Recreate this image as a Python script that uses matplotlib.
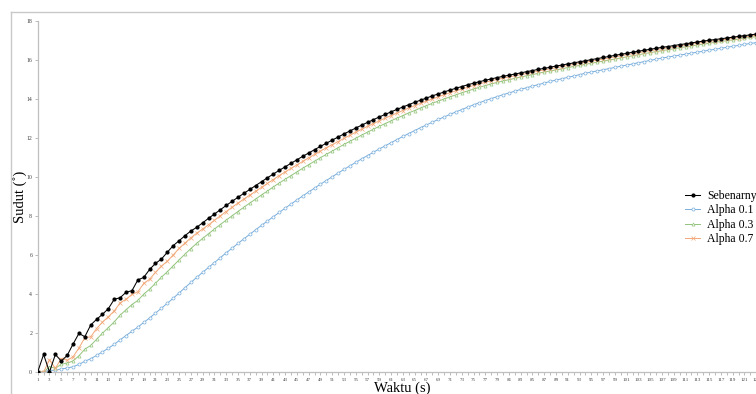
import matplotlib
matplotlib.use("Agg")
import matplotlib.pyplot as plt
from matplotlib.lines import Line2D

plt.rcParams['font.family'] = ['Liberation Serif', 'DejaVu Serif']

# time categories (s)
waktu = list(range(1, 126))

sebenarnya = [
    0.00, 0.90, 0.00, 0.90, 0.56, 0.85, 1.43, 1.98, 1.81, 2.41,
    2.70, 2.96, 3.25, 3.73, 3.81, 4.09, 4.17, 4.72, 4.85, 5.26,
    5.57, 5.79, 6.14, 6.48, 6.73, 6.99, 7.23, 7.42, 7.65, 7.88,
    8.10, 8.32, 8.54, 8.75, 8.96, 9.16, 9.36, 9.56, 9.76, 9.96,
    10.15, 10.34, 10.52, 10.70, 10.88, 11.06, 11.23, 11.40, 11.57, 11.73,
    11.89, 12.05, 12.21, 12.36, 12.51, 12.66, 12.80, 12.94, 13.08, 13.21,
    13.34, 13.47, 13.59, 13.71, 13.83, 13.94, 14.05, 14.16, 14.26, 14.36,
    14.46, 14.55, 14.64, 14.73, 14.81, 14.89, 14.96, 15.03, 15.10, 15.16,
    15.22, 15.28, 15.34, 15.40, 15.46, 15.52, 15.57, 15.63, 15.69, 15.74,
    15.80, 15.85, 15.91, 15.96, 16.02, 16.07, 16.13, 16.18, 16.24, 16.29,
    16.34, 16.40, 16.45, 16.50, 16.55, 16.60, 16.65, 16.69, 16.74, 16.79,
    16.83, 16.88, 16.92, 16.97, 17.01, 17.05, 17.09, 17.13, 17.17, 17.21,
    17.25, 17.29, 17.33, 17.36, 17.40,
]

alpha_01 = [
    0.00, 0.00, 0.09, 0.08, 0.16, 0.20, 0.27, 0.39, 0.55, 0.68,
    0.85, 1.03, 1.22, 1.42, 1.65, 1.87, 2.09, 2.30, 2.54, 2.77,
    3.02, 3.27, 3.52, 3.78, 4.05, 4.32, 4.59, 4.85, 5.11, 5.36,
    5.61, 5.86, 6.11, 6.35, 6.59, 6.83, 7.06, 7.29, 7.52, 7.74,
    7.96, 8.18, 8.40, 8.61, 8.82, 9.03, 9.23, 9.43, 9.63, 9.82,
    10.01, 10.20, 10.39, 10.57, 10.75, 10.93, 11.10, 11.27, 11.44, 11.60,
    11.76, 11.92, 12.08, 12.23, 12.38, 12.53, 12.67, 12.81, 12.95, 13.08,
    13.21, 13.34, 13.46, 13.58, 13.70, 13.81, 13.92, 14.02, 14.12, 14.22,
    14.31, 14.40, 14.49, 14.58, 14.66, 14.74, 14.82, 14.90, 14.97, 15.04,
    15.11, 15.18, 15.25, 15.32, 15.38, 15.44, 15.50, 15.56, 15.62, 15.68,
    15.74, 15.80, 15.86, 15.92, 15.98, 16.04, 16.10, 16.15, 16.20, 16.25,
    16.30, 16.35, 16.40, 16.45, 16.50, 16.55, 16.60, 16.65, 16.70, 16.75,
    16.80, 16.85, 16.89, 16.93, 16.97,
]

alpha_03 = [
    0.00, 0.00, 0.27, 0.19, 0.40, 0.45, 0.57, 0.83, 1.17, 1.36,
    1.68, 1.99, 2.28, 2.57, 2.92, 3.19, 3.46, 3.67, 3.99, 4.25,
    4.55, 4.86, 5.14, 5.44, 5.75, 6.04, 6.33, 6.60, 6.85, 7.09,
    7.33, 7.56, 7.79, 8.01, 8.23, 8.45, 8.66, 8.87, 9.08, 9.28,
    9.49, 9.69, 9.88, 10.07, 10.26, 10.45, 10.63, 10.81, 10.99, 11.16,
    11.33, 11.50, 11.67, 11.83, 11.99, 12.15, 12.30, 12.45, 12.60, 12.74,
    12.88, 13.02, 13.15, 13.29, 13.41, 13.54, 13.66, 13.78, 13.89, 14.00,
    14.11, 14.21, 14.32, 14.41, 14.51, 14.60, 14.69, 14.77, 14.85, 14.92,
    14.99, 15.06, 15.13, 15.19, 15.25, 15.32, 15.38, 15.44, 15.49, 15.55,
    15.61, 15.67, 15.72, 15.78, 15.83, 15.89, 15.94, 16.00, 16.05, 16.11,
    16.16, 16.22, 16.27, 16.33, 16.38, 16.43, 16.48, 16.53, 16.58, 16.63,
    16.68, 16.72, 16.77, 16.81, 16.86, 16.91, 16.95, 16.99, 17.03, 17.07,
    17.12, 17.16, 17.20, 17.24, 17.27,
]

alpha_07 = [
    0.00, 0.00, 0.63, 0.19, 0.69, 0.60, 0.78, 1.23, 1.76, 1.80,
    2.23, 2.56, 2.84, 3.13, 3.55, 3.73, 3.98, 4.11, 4.54, 4.76,
    5.11, 5.43, 5.68, 6.00, 6.34, 6.61, 6.88, 7.12, 7.33, 7.55,
    7.78, 8.01, 8.23, 8.45, 8.66, 8.87, 9.07, 9.27, 9.47, 9.67,
    9.87, 10.07, 10.26, 10.44, 10.62, 10.80, 10.98, 11.16, 11.33, 11.50,
    11.66, 11.82, 11.98, 12.14, 12.30, 12.45, 12.60, 12.74, 12.88, 13.02,
    13.15, 13.28, 13.41, 13.54, 13.66, 13.78, 13.89, 14.00, 14.11, 14.22,
    14.32, 14.42, 14.51, 14.60, 14.69, 14.78, 14.86, 14.93, 15.00, 15.07,
    15.13, 15.19, 15.25, 15.31, 15.37, 15.43, 15.49, 15.55, 15.60, 15.66,
    15.72, 15.77, 15.83, 15.88, 15.94, 15.99, 16.05, 16.10, 16.16, 16.21,
    16.27, 16.32, 16.37, 16.43, 16.48, 16.53, 16.58, 16.63, 16.67, 16.72,
    16.77, 16.81, 16.86, 16.90, 16.95, 16.99, 17.03, 17.07, 17.11, 17.15,
    17.19, 17.23, 17.27, 17.31, 17.35,
]

series_labels = ["Sebenarnya", "Alpha 0.1", "Alpha 0.3", "Alpha 0.7"]
y_ticks = [0, 2, 4, 6, 8, 10, 12, 14, 16, 18]

W, H = 756, 394
fig = plt.figure(figsize=(W / 100, H / 100), dpi=100)

# outer chart frame (cropped at right / bottom)
frame_col = "#c8c8c8"
fig.add_artist(Line2D([11 / W, 11 / W], [0, 1 - 11.5 / H], color=frame_col, lw=1.0,
                      transform=fig.transFigure))
fig.add_artist(Line2D([11 / W, 1], [1 - 11.5 / H, 1 - 11.5 / H], color=frame_col, lw=1.0,
                      transform=fig.transFigure))

# axes: category 1 at x=37.7px, step 5.89 px; y 0 at 372px, 18 at 21px
x0, step = 37.7, 5.89
xmax = 131
ax_left = x0 / W
ax_w = (xmax - 1) * step / W
ax_bottom = (H - 372) / H
ax_h = (372 - 21) / H
ax = fig.add_axes([ax_left, ax_bottom, ax_w, ax_h])
ax.set_xlim(1, xmax)
ax.set_ylim(0, 18)

styles = [
    dict(color="black", marker="o", markersize=2.0, markerfacecolor="black",
         markeredgecolor="black", lw=0.75),
    dict(color="#79aedc", marker="o", markersize=2.2, markerfacecolor="white",
         markeredgecolor="#79aedc", markeredgewidth=0.5, lw=0.7),
    dict(color="#93c47d", marker="^", markersize=2.2, markerfacecolor="white",
         markeredgecolor="#93c47d", markeredgewidth=0.5, lw=0.7),
    dict(color="#f2a878", marker="x", markersize=2.2,
         markeredgecolor="#f2a878", markeredgewidth=0.5, lw=0.7),
]
data = [sebenarnya, alpha_01, alpha_03, alpha_07]
handles = []
for vals, lab, st in zip(data, series_labels, styles):
    h, = ax.plot(waktu, vals, label=lab, clip_on=True, **st)
    handles.append(h)
handles[0].set_zorder(5)

for s in ["top", "right"]:
    ax.spines[s].set_visible(False)
for s in ["left", "bottom"]:
    ax.spines[s].set_color("#bfbfbf")
    ax.spines[s].set_linewidth(0.9)

ax.set_yticks(y_ticks)
ax.set_yticklabels([str(v) for v in y_ticks], fontsize=4.2, color="#404040")
ax.set_xticks(waktu)
ax.set_xticklabels([str(v) if v % 2 == 1 else "" for v in waktu], fontsize=3.6,
                   color="#404040")
ax.tick_params(axis="both", length=2, width=0.5, color="#a0a0a0", pad=2)

ax.set_xlabel("Waktu (s)", fontsize=10.5)
ax.xaxis.set_label_coords((402 - x0) / ((xmax - 1) * step), -(388 - 372) / (372 - 21),
                          transform=ax.transAxes)
ax.xaxis.label.set_verticalalignment("center")
ax.set_ylabel("Sudut (\u02da)", fontsize=10.5)
ax.yaxis.set_label_coords(-(x0 - 20) / ((xmax - 1) * step), 0.5)
ax.yaxis.label.set_verticalalignment("center")

leg = fig.legend(handles=handles, labels=series_labels, loc="upper left",
                 bbox_to_anchor=(685 / W, 1 - 190 / H), frameon=False,
                 fontsize=8.5, handlelength=1.3, handletextpad=0.6,
                 labelspacing=0.2, borderpad=0, borderaxespad=0)

fig.savefig("out.png", dpi=100)
